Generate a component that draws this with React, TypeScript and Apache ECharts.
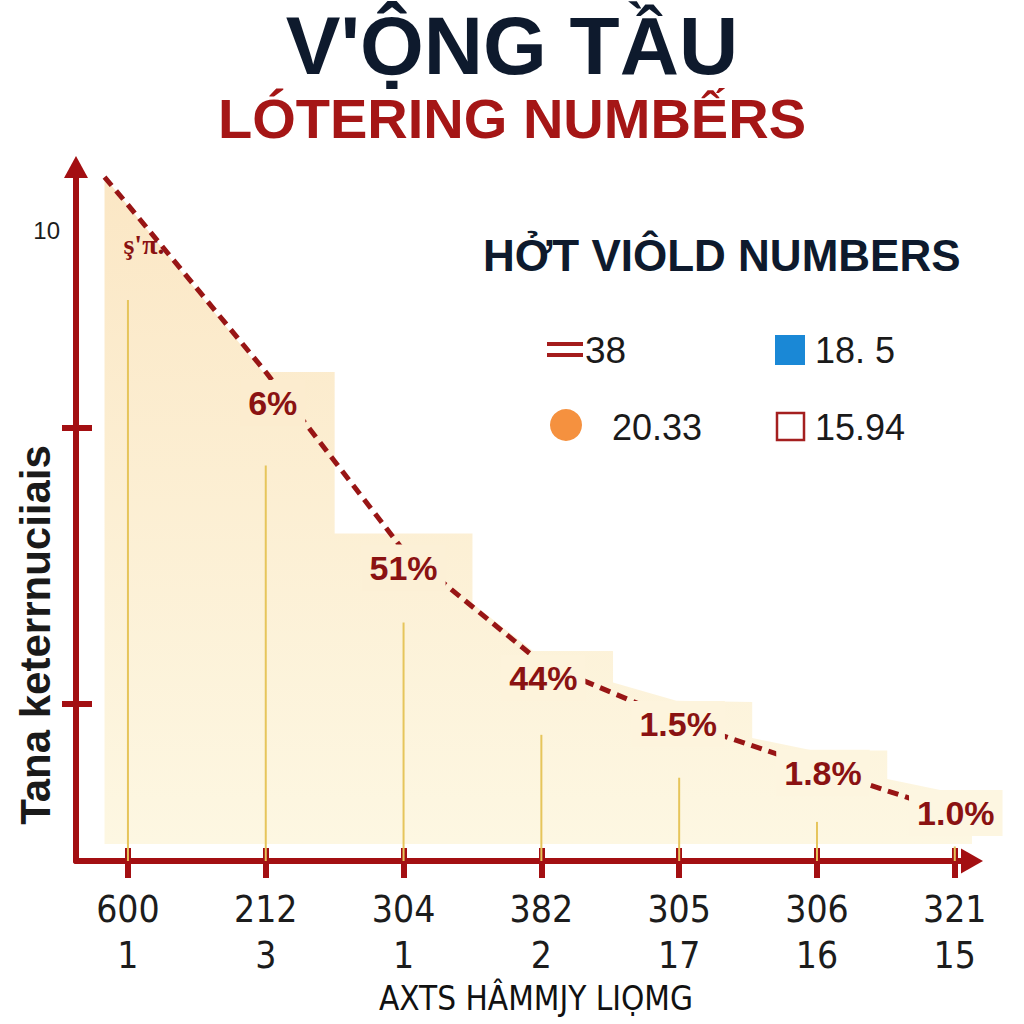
import React, { useEffect, useRef } from 'react';
import * as echarts from 'echarts';

// ---------- data ----------
const categoryTop = ['600', '212', '304', '382', '305', '306', '321'];
const categoryBottom = ['1', '3', '1', '2', '17', '16', '15'];
const categoryIndex = [0, 1, 2, 3, 4, 5, 6];
const trendStart = [-0.17, 10.84];
const trendValues = [10.4, 7.75, 4.92, 3.14, 2.22, 1.48, 0.76];
const pctLabels = ["ş'π.", '6%', '51%', '44%', '1.5%', '1.8%', '1.0%'];
const stemValues = [9.16, 6.54, 4.05, 2.27, 1.59, 0.89, 0.5];
const bandOutline = [
  [-0.17, 10.84], [0.98, 7.75], [1.5, 7.75], [1.5, 5.19], [2.5, 5.19], [2.5, 4.08],
  [2.94, 3.33], [3.52, 3.33], [3.52, 2.83], [3.98, 2.54], [4.53, 2.52], [4.53, 1.95],
  [4.97, 1.75], [5.51, 1.75], [5.51, 1.3], [5.99, 1.08], [6.34, 1.08],
];
const bandBase = 0.27;
const yTickValues = [2.49, 6.86];
const yLabelValues = [10];
const yLabelText = ['10'];
const legendValues = ['38', '18. 5', '20.33', '15.94'];
const titleText = "V'ỘNG TẦU";
const subtitleText = 'LÓTERING NUMBẾRS';
const panelTitle = 'HỞT VIÔLD NUMBERS';
const xAxisTitle = 'AXTS HÂMMJY LIỌMG';
const yAxisTitle = 'Tana keterrnuciiais';

// ---------- layout / style ----------
const RED = '#a30f12';
const DASH_RED = '#981515';
const LABEL_RED = '#8a1212';
const NAVY = '#0e1a2d';
const SANS = "'Liberation Sans', Arial, sans-serif";
const NARROW = "'Liberation Sans Narrow', 'DejaVu Sans Condensed', 'Liberation Sans', sans-serif";
const labelOffsets = [[16, 40], [7, 31], [0, 17], [2, 15], [-1, 3], [6, 5], [1, 0]];
const bandTop = '#fbe7c5';
const bandBottom = '#fdf7e2';
const Y_MAX = 11;
const GRID_H = 1024 - 167 - 163;
const TICK_FONT = 37;

function mix(a: string, b: string, t: number) {
  const pa = [1, 3, 5].map((k) => parseInt(a.slice(k, k + 2), 16));
  const pb = [1, 3, 5].map((k) => parseInt(b.slice(k, k + 2), 16));
  const c = pa.map((v, i) => Math.round(v + (pb[i] - v) * t));
  return 'rgb(' + c.join(',') + ')';
}

export default function App() {
  const ref = useRef<HTMLDivElement>(null);
  useEffect(() => {
    const chart = echarts.init(ref.current!, null, { renderer: 'svg' });
    const bandMax = bandOutline[0][1];
    const unitPx = GRID_H / Y_MAX;
    const option: any = {
      animation: false,
      backgroundColor: '#ffffff',
      title: [
        {
          text: titleText, left: 'center', top: 4, padding: 0,
          textStyle: { fontFamily: SANS, fontSize: 82, fontWeight: 'bold', color: NAVY, lineHeight: 82 },
        },
        {
          text: subtitleText, left: 'center', top: 90, padding: 0,
          textStyle: { fontFamily: SANS, fontSize: 56, fontWeight: 'bold', color: '#a51616', lineHeight: 56 },
        },
        {
          text: panelTitle, left: 483, top: 233, padding: 0,
          textStyle: { fontFamily: SANS, fontSize: 44, fontWeight: 'bold', color: NAVY, lineHeight: 44 },
        },
      ],
      grid: { left: 76, right: 52, top: 167, bottom: 163, containLabel: false },
      xAxis: [
        {
          type: 'value', min: -0.377, max: 6.125, position: 'bottom',
          axisLine: {
            show: true, onZero: false, symbol: ['none', 'triangle'], symbolSize: [25, 22],
            lineStyle: { color: RED, width: 6 },
          },
          axisTick: { show: true, customValues: categoryIndex, length: 17, lineStyle: { color: RED, width: 6 } },
          axisLabel: {
            customValues: categoryIndex, margin: 28,
            formatter: (v: number) => categoryTop[Math.round(v)],
            fontFamily: NARROW, fontSize: TICK_FONT, lineHeight: 40, color: '#1c1c1c',
          },
          splitLine: { show: false },
        },
        {
          type: 'value', min: -0.377, max: 6.125, position: 'bottom',
          axisLine: { show: false, onZero: false },
          axisTick: { show: true, inside: true, customValues: categoryIndex, length: 13, lineStyle: { color: RED, width: 6 } },
          axisLabel: {
            customValues: categoryIndex, margin: 74,
            formatter: (v: number) => categoryBottom[Math.round(v)],
            fontFamily: NARROW, fontSize: TICK_FONT, lineHeight: 40, color: '#1c1c1c',
          },
          splitLine: { show: false },
        },
      ],
      yAxis: [
        {
          type: 'value', min: 0, max: Y_MAX, position: 'left',
          axisLine: {
            show: true, onZero: false, symbol: ['none', 'triangle'], symbolSize: [24, 22],
            lineStyle: { color: RED, width: 6 },
          },
          axisTick: { show: true, customValues: yTickValues, length: 14, lineStyle: { color: RED, width: 6 } },
          axisLabel: {
            customValues: yLabelValues, margin: 16,
            formatter: (v: number) => yLabelText[yLabelValues.indexOf(v)] ?? String(v),
            fontFamily: SANS, fontSize: 24, color: '#1c1c1c',
          },
          splitLine: { show: false },
        },
        {
          type: 'value', min: 0, max: Y_MAX, position: 'left',
          axisLine: { show: false, onZero: false },
          axisTick: { show: true, inside: true, customValues: yTickValues, length: 16, lineStyle: { color: RED, width: 6 } },
          axisLabel: { show: false },
          splitLine: { show: false },
        },
      ],
      series: [
        {
          name: 'band', type: 'line', data: bandOutline, symbol: 'none', silent: true, clip: false, z: 1,
          lineStyle: { width: 0 },
          areaStyle: {
            origin: bandBase, opacity: 1,
            color: new echarts.graphic.LinearGradient(0, 0, 0, 1, [
              { offset: 0, color: bandTop },
              { offset: 1, color: bandBottom },
            ]),
          },
        },
        {
          name: 'stemBase', type: 'bar', stack: 'stem', barWidth: 2, silent: true, z: 2,
          itemStyle: { color: 'rgba(0,0,0,0)' },
          data: categoryIndex.map((i) => [i, bandBase]),
        },
        {
          name: 'stem', type: 'bar', stack: 'stem', barWidth: 2, silent: true, z: 2,
          itemStyle: { color: '#e6c55b' },
          data: stemValues.map((v, i) => [i, v - bandBase]),
        },
        {
          name: 'trend', type: 'line', symbol: 'none', silent: true, z: 3,
          lineStyle: { color: DASH_RED, width: 5, type: [11, 7] },
          data: [trendStart, ...trendValues.map((v, i) => [i, v])],
        },
        {
          name: 'labels', type: 'scatter', symbol: 'rect', symbolSize: 1, silent: true, z: 5,
          itemStyle: { color: 'rgba(0,0,0,0)', opacity: 1 },
          data: trendValues.map((v, i) => {
            const vl = v - labelOffsets[i][1] / unitPx;
            const t = Math.min(1, Math.max(0, (bandMax - vl) / (bandMax - bandBase)));
            const first = i === 0;
            return {
              value: [i, v],
              label: {
                show: true, position: 'inside', offset: labelOffsets[i],
                formatter: pctLabels[i],
                fontFamily: first ? "'Liberation Serif', serif" : SANS,
                fontSize: first ? 28 : 34, fontWeight: 'bold', color: LABEL_RED, opacity: 1,
                textBorderWidth: 0, textBorderColor: 'transparent',
                backgroundColor: first ? 'transparent' : mix(bandTop, bandBottom, t),
                padding: [6, 8],
              },
            };
          }),
        },
      ],
      graphic: [
        // legend panel
        { type: 'line', shape: { x1: 547, y1: 344, x2: 583, y2: 344 }, style: { stroke: '#a41c1c', lineWidth: 4 } },
        { type: 'line', shape: { x1: 547, y1: 355, x2: 583, y2: 355 }, style: { stroke: '#a41c1c', lineWidth: 4 } },
        { type: 'text', x: 585, y: 350, style: { text: legendValues[0], font: '37px ' + SANS, fill: '#1a1a1a', align: 'left', verticalAlign: 'middle' } },
        { type: 'rect', shape: { x: 775, y: 335, width: 30, height: 30 }, style: { fill: '#1a88d6' } },
        { type: 'text', x: 815, y: 350, style: { text: legendValues[1], font: '36px ' + SANS, fill: '#1a1a1a', align: 'left', verticalAlign: 'middle' } },
        { type: 'circle', shape: { cx: 566, cy: 425, r: 16 }, style: { fill: '#f5913f' } },
        { type: 'text', x: 612, y: 427, style: { text: legendValues[2], font: '36px ' + SANS, fill: '#1a1a1a', align: 'left', verticalAlign: 'middle' } },
        { type: 'rect', shape: { x: 777, y: 413, width: 27, height: 27 }, style: { fill: '#ffffff', stroke: '#a41f1f', lineWidth: 2.5 } },
        { type: 'text', x: 815, y: 427, style: { text: legendValues[3], font: '36px ' + SANS, fill: '#1a1a1a', align: 'left', verticalAlign: 'middle' } },
        // axis titles
        {
          type: 'text', x: 536, y: 998,
          style: { text: xAxisTitle, font: '33px ' + NARROW, fill: '#111111', align: 'center', verticalAlign: 'middle' },
        },
        {
          type: 'text', x: 35, y: 635, rotation: Math.PI / 2,
          style: { text: yAxisTitle, font: 'bold 42px ' + SANS, fill: '#1a1a1a', align: 'center', verticalAlign: 'middle' },
        },
      ],
    };
    chart.setOption(option);
    return () => chart.dispose();
  }, []);
  return (
    <div
      ref={ref}
      style={{ position: 'fixed', left: 0, top: 0, width: 1024, height: 1024, background: '#ffffff' }}
    />
  );
}
